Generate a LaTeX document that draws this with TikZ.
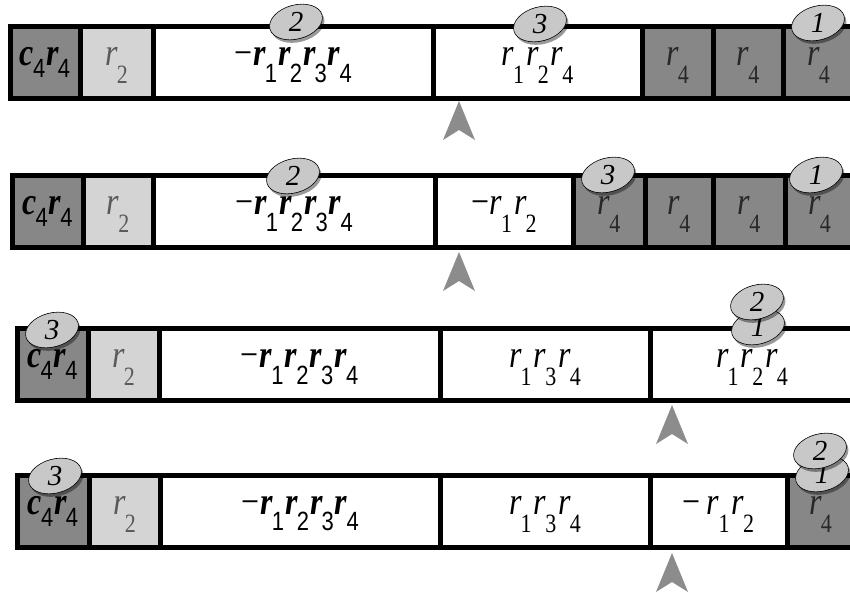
\documentclass[tikz,border=0pt]{standalone}
\usepackage{graphicx}
\usepackage{fontspec}
\setmainfont{Liberation Serif}
\setsansfont{Liberation Sans}
\usetikzlibrary{shapes.geometric,shadows}

\definecolor{cellgray}{RGB}{135,135,135}
\definecolor{cellsilver}{RGB}{212,212,212}
\definecolor{taggray}{RGB}{200,200,200}
\definecolor{pointergray}{RGB}{140,140,140}
\definecolor{cellink}{RGB}{40,40,40}
\definecolor{softink}{RGB}{90,90,90}

% subscripted factors
\newcommand{\subsz}{\fontsize{22}{22}\selectfont}
\newcommand{\rl}[2]{\textit{#1}\kern-1pt\raisebox{-15pt}{\subsz #2}}
\newcommand{\rh}[2]{\textbf{\textit{#1}}\kern-1pt\raisebox{-14pt}{\subsz\sffamily #2}}
\newcommand{\chead}{\textbf{\textit{c}}\kern-1pt\raisebox{-10pt}{\subsz\sffamily 4}\kern1pt\textbf{\textit{r}}\kern-1pt\raisebox{-10pt}{\subsz\sffamily 4}}
\newcommand{\prodall}{−\kern1pt\rh{r}{1}\kern1pt\rh{r}{2}\kern1pt\rh{r}{3}\kern1pt\rh{r}{4}}
\newcommand{\tall}[1]{\scalebox{1}[1.2]{#1}}

\begin{document}
\begin{tikzpicture}[x=1pt,y=1pt,
    cell/.style={draw=black,line width=5pt,inner sep=0pt,minimum height=72pt},
    head/.style={fill=cellgray}, head-txt/.style={text=black},
    dark/.style={fill=cellgray}, dark-txt/.style={text=cellink},
    light/.style={fill=cellsilver}, light-txt/.style={text=softink},
    plain/.style={fill=white}, plain-txt/.style={text=black},
    lbl/.style={anchor=base,inner sep=0pt,font=\fontsize{32}{32}\selectfont},
    tag/.style={ellipse,draw=black,line width=0.6pt,fill=taggray,
        minimum width=54pt,minimum height=34pt,inner sep=0pt,rotate=15,
        drop shadow={shadow xshift=2pt,shadow yshift=-3pt,fill=black,opacity=0.4}},
    tagnum/.style={inner sep=0pt,font=\fontsize{29}{29}\selectfont\itshape},
    pointer/.style={fill=pointergray}]
    \useasboundingbox (0,0) rectangle (850,-593);
    \fill[white] (0,0) rectangle (850,-593);
    \clip (0,0) rectangle (850,-593);

    % Row 1
    \foreach \xa/\xb/\kind/\txt [count=\i] in {10/80/head/\chead, 80/153/light/{\rl{r}{2}},
        153/433/plain/\prodall, 433/642/plain/{\rl{r}{1}\kern2pt\rl{r}{2}\kern2pt\rl{r}{4}},
        642/713/dark/{\rl{r}{4}}, 713/783/dark/{\rl{r}{4}}, 783/854/dark/{\rl{r}{4}}}{
      \node[cell,\kind,minimum width=\xb-\xa] (r1c\i) at ({(\xa+\xb)/2},-62.5) {};
      \node[lbl,\kind-txt] (r1t\i) at ([yshift=-3pt]r1c\i.center) {\tall{\txt}};
    }
    % Row 2
    \foreach \xa/\xb/\kind/\txt [count=\i] in {12/83/head/\chead, 83/153/light/{\rl{r}{2}},
        153/435/plain/\prodall, 435/573/plain/{−\rl{r}{1}\kern2pt\rl{r}{2}},
        573/645/dark/{\rl{r}{4}}, 645/713/dark/{\rl{r}{4}}, 713/785/dark/{\rl{r}{4}},
        785/854/dark/{\rl{r}{4}}}{
      \node[cell,\kind,minimum width=\xb-\xa] (r2c\i) at ({(\xa+\xb)/2},-211.5) {};
      \node[lbl,\kind-txt] (r2t\i) at ([yshift=-3pt]r2c\i.center) {\tall{\txt}};
    }
    % Row 3
    \foreach \xa/\xb/\kind/\txt [count=\i] in {17/88/head/\chead, 88/159/light/{\rl{r}{2}},
        159/440/plain/\prodall, 440/650/plain/{\rl{r}{1}\kern2pt\rl{r}{3}\kern2pt\rl{r}{4}},
        650/854/plain/{\rl{r}{1}\kern2pt\rl{r}{2}\kern2pt\rl{r}{4}}}{
      \node[cell,\kind,minimum width=\xb-\xa] (r3c\i) at ({(\xa+\xb)/2},-364.5) {};
      \node[lbl,\kind-txt] (r3t\i) at ([yshift=-3pt]r3c\i.center) {\tall{\txt}};
    }
    % Row 4
    \foreach \xa/\xb/\kind/\txt [count=\i] in {17/89/head/\chead, 89/160/light/{\rl{r}{2}},
        160/440/plain/\prodall, 440/650/plain/{\rl{r}{1}\kern2pt\rl{r}{3}\kern2pt\rl{r}{4}},
        650/787/plain/{−\kern6pt\rl{r}{1}\kern2pt\rl{r}{2}}, 787/854/dark/{\rl{r}{4}}}{
      \node[cell,\kind,minimum width=\xb-\xa] (r4c\i) at ({(\xa+\xb)/2},-511) {};
      \node[lbl,\kind-txt] (r4t\i) at ([yshift=-3pt]r4c\i.center) {\tall{\txt}};
    }

    % Numbered tags on the rows
    \foreach \gx/\gy/\num [count=\k] in {296/22/2, 540/24/3, 818/23/1,
        293/176/2, 608/175/3, 816/175/1,
        52/330/3, 758/327/1, 757/302/2,
        55/476/3, 822/474/1, 820/451/2}{
      \node[tag] (g\k) at (\gx,-\gy) {};
      \node[tagnum] (n\k) at (g\k.center) {\num};
    }

    % Pointers under the rows
    \foreach \px/\py in {459/101, 459/252, 672/405, 672/553}
      \fill[pointer] (\px,-\py) -- ++(16,-39) -- ++(-16,10) -- ++(-16,-10) -- cycle;
\end{tikzpicture}
\end{document}
